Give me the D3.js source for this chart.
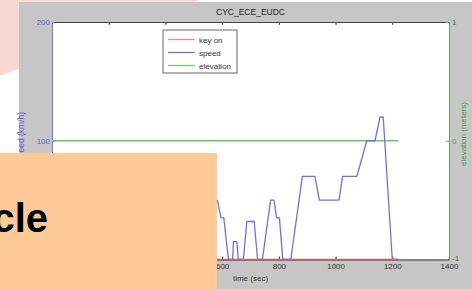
<!DOCTYPE html>
<html>
<head>
<meta charset="utf-8">
<script src="https://cdn.jsdelivr.net/npm/d3@7"></script>
<style>
    body { margin: 0; background: #fff; }
    svg { display: block; font-family: "Liberation Sans", Arial, sans-serif; }
    .tick text { font-size: 8px; }
</style>
</head>
<body>
<div id="chart"></div>
<script>
// Drive cycle data (time in s, speed in km/h)
const timeSec = [0, 40, 52, 55, 67, 72, 90, 102, 128, 140, 157, 186, 198, 208, 217, 229,
    247, 250, 262, 267, 285, 297, 323, 335, 352, 381, 393, 403, 412, 424,
    442, 445, 457, 462, 480, 492, 518, 530, 542, 571, 583, 596, 606, 622,
    637, 640, 652, 657, 675, 687, 713, 725, 742, 771, 783, 792, 802, 814,
    842, 883, 927, 943, 1012, 1025, 1075, 1110, 1139, 1157, 1168, 1200, 1220];
const speedKmh = [0, 0, 0, 15, 15, 0, 0, 32, 32, 0, 0, 50, 50, 35, 35, 0,
    0, 15, 15, 0, 0, 32, 32, 0, 0, 50, 50, 35, 35, 0,
    0, 15, 15, 0, 0, 32, 32, 0, 0, 50, 50, 35, 35, 0,
    0, 15, 15, 0, 0, 32, 32, 0, 0, 50, 50, 35, 35, 0,
    0, 70, 70, 50, 50, 70, 70, 100, 100, 120, 120, 0, 0];
const keyOnTime = [0, 1220];
const keyOnValue = [0, 0];
const elevationTime = [0, 1221];
const elevationValue = [0, 0];

const xTicks = [0, 200, 400, 600, 800, 1000, 1200, 1400];
const leftTicks = [0, 100, 200];
const rightTicks = [-1, 0, 1];
const legendLabels = ['key on', 'speed', 'elevation'];
const legendColors = ['#ee8f9f', '#6f6fe6', '#72c272'];

const W = 472, H = 289;
const plot = {left: 52, top: 22, right: 449, bottom: 259.5};
const plainNum = d => String(d);

const svg = d3.select('#chart').append('svg')
    .attr('width', W)
    .attr('height', H);

// Slide background: pink corner behind the figure
svg.append('path')
    .attr('d', 'M0,0 L200,0 L0,76 Z')
    .attr('fill', '#f8d9d5');

// Figure panel
svg.append('rect')
    .attr('x', 19).attr('y', 2)
    .attr('width', W - 19).attr('height', H - 2)
    .attr('fill', '#c6c6c6');

svg.append('rect')
    .attr('x', plot.left).attr('y', plot.top)
    .attr('width', plot.right - plot.left).attr('height', plot.bottom - plot.top)
    .attr('fill', '#fff');

// Scales
const xScale = d3.scaleLinear().domain([0, 1400]).range([plot.left, plot.right]);
const yLeft = d3.scaleLinear().domain([0, 200]).range([plot.bottom, plot.top]);
const yRight = d3.scaleLinear().domain([-1, 1]).range([plot.bottom, plot.top]);

// Axes (ticks point inward, MATLAB style)
const xAxisG = svg.append('g')
    .attr('transform', `translate(0,${plot.bottom})`)
    .call(d3.axisBottom(xScale).tickValues(xTicks).tickFormat(plainNum)
        .tickSize(-3).tickSizeOuter(0).tickPadding(4));
xAxisG.selectAll('path, line').attr('stroke', '#333');
xAxisG.selectAll('text').attr('fill', '#333');

const topAxisG = svg.append('g')
    .attr('transform', `translate(0,${plot.top})`)
    .call(d3.axisTop(xScale).tickValues(xTicks).tickSize(-3).tickSizeOuter(0).tickFormat(''));
topAxisG.selectAll('path, line').attr('stroke', '#444');

const leftAxisG = svg.append('g')
    .attr('transform', `translate(${plot.left},0)`)
    .call(d3.axisLeft(yLeft).tickValues(leftTicks).tickFormat(plainNum)
        .tickSize(-3).tickSizeOuter(0).tickPadding(2));
leftAxisG.selectAll('path, line').attr('stroke', '#7474ee');
leftAxisG.selectAll('text').attr('fill', '#5a5ad8');

const rightAxisG = svg.append('g')
    .attr('transform', `translate(${plot.right},0)`)
    .call(d3.axisRight(yRight).tickValues(rightTicks).tickFormat(plainNum)
        .tickSize(-3).tickSizeOuter(0).tickPadding(3));
rightAxisG.selectAll('path, line').attr('stroke', '#5fa85f');
rightAxisG.selectAll('text').attr('fill', '#555');
rightAxisG.selectAll('.tick').filter(d => d === 0).select('text').attr('fill', '#4c9a4c');
rightAxisG.selectAll('.tick').filter(d => d === -1).select('text').attr('dy', '0.1em');

// Lines
const lineLeft = (ts, vs) => d3.line().x((d, i) => xScale(ts[i])).y(d => yLeft(d))(vs);
const lineRight = (ts, vs) => d3.line().x((d, i) => xScale(ts[i])).y(d => yRight(d))(vs);

svg.append('path')
    .attr('d', lineRight(elevationTime, elevationValue))
    .attr('fill', 'none')
    .attr('stroke', legendColors[2])
    .attr('stroke-width', 1.3);

svg.append('path')
    .attr('d', lineLeft(timeSec, speedKmh))
    .attr('fill', 'none')
    .attr('stroke', legendColors[1])
    .attr('stroke-width', 1.3)
    .attr('stroke-linejoin', 'round');

svg.append('path')
    .attr('d', lineLeft(keyOnTime, keyOnValue))
    .attr('fill', 'none')
    .attr('stroke', '#c86060')
    .attr('stroke-width', 1.3);

// Title and axis labels
svg.append('text')
    .attr('x', (plot.left + plot.right) / 2)
    .attr('y', 15)
    .attr('text-anchor', 'middle')
    .attr('font-size', 8.5)
    .attr('fill', '#222')
    .text('CYC_ECE_EUDC');

svg.append('text')
    .attr('x', (plot.left + plot.right) / 2)
    .attr('y', 281)
    .attr('text-anchor', 'middle')
    .attr('font-size', 8)
    .attr('fill', '#333')
    .text('time (sec)');

svg.append('text')
    .attr('transform', `translate(24,${(plot.top + plot.bottom) / 2 - 4}) rotate(-90)`)
    .attr('text-anchor', 'middle')
    .attr('font-size', 8.5)
    .attr('fill', '#5a5ad8')
    .text('speed (km/h)');

svg.append('text')
    .attr('transform', `translate(466,134) rotate(-90)`)
    .attr('text-anchor', 'middle')
    .attr('font-size', 8)
    .attr('fill', '#4c9a4c')
    .text('elevation (meters)');

// Legend
const legend = svg.append('g').attr('transform', 'translate(163,30)');
legend.append('rect')
    .attr('width', 74).attr('height', 43)
    .attr('fill', '#fff')
    .attr('stroke', '#444')
    .attr('stroke-width', 0.8);

legendLabels.forEach((label, i) => {
    const y = 9.5 + i * 13;
    legend.append('line')
        .attr('x1', 5).attr('x2', 32)
        .attr('y1', y).attr('y2', y)
        .attr('stroke', legendColors[i])
        .attr('stroke-width', 1.3);
    legend.append('text')
        .attr('x', 36).attr('y', y + 3)
        .attr('font-size', 8)
        .attr('fill', '#333')
        .text(label);
});

// Overlapping slide box
svg.append('rect')
    .attr('x', 0).attr('y', 153)
    .attr('width', 217).attr('height', H - 153)
    .attr('fill', '#fec996');

svg.append('text')
    .attr('x', 48).attr('y', 232)
    .attr('text-anchor', 'end')
    .attr('font-size', 40)
    .attr('font-weight', 'bold')
    .attr('fill', '#000')
    .text('cle');
</script>
</body>
</html>
